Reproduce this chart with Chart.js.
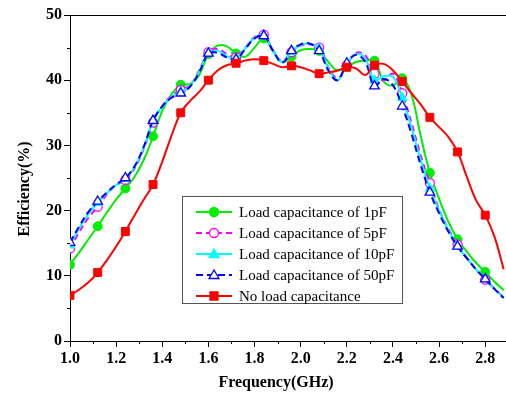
<!DOCTYPE html>
<html>
<head>
<meta charset="utf-8">
<script src="https://cdn.jsdelivr.net/npm/chart.js@4/dist/chart.umd.min.js"></script>
<style>
    html, body { margin: 0; padding: 0; background: #fff; overflow: hidden; }
    #wrap { width: 506px; height: 394px; position: relative; }
    canvas { display: block; }
</style>
</head>
<body>
<div id="wrap"><canvas id="chart"></canvas></div>
<script>
// Frequency samples (GHz), markers sit on every third one
const freq = [1.00, 1.04, 1.08, 1.12, 1.16, 1.20, 1.24, 1.28, 1.32, 1.36, 1.40, 1.44,
    1.48, 1.52, 1.56, 1.60, 1.64, 1.68, 1.72, 1.76, 1.80, 1.84, 1.88, 1.92,
    1.96, 2.00, 2.04, 2.08, 2.12, 2.16, 2.20, 2.24, 2.28, 2.32, 2.36, 2.40,
    2.44, 2.48, 2.52, 2.56, 2.60, 2.64, 2.68, 2.72, 2.76, 2.80, 2.84, 2.88];

const load1pF = [11.7, 13.6, 15.6, 17.6, 19.7, 21.7, 23.4, 25.2, 27.8, 31.4, 35.3, 37.8,
    39.3, 39.4, 40.8, 44.0, 45.3, 45.2, 44.1, 43.6, 45.0, 46.4, 44.5, 42.8,
    43.6, 44.6, 44.8, 44.5, 42.8, 41.5, 42.0, 42.8, 43.0, 43.0, 39.8, 39.2,
    40.3, 37.8, 31.5, 25.8, 21.8, 18.3, 15.6, 13.7, 12.0, 10.6, 9.1, 7.8];

const load5pF = [14.2, 16.7, 18.9, 20.6, 22.5, 23.9, 24.7, 26.5, 29.5, 33.5, 36.0, 37.6,
    38.5, 39.2, 41.5, 44.3, 44.8, 44.0, 43.5, 45.0, 46.6, 47.0, 44.6, 42.9,
    44.3, 45.3, 45.5, 45.0, 42.0, 40.3, 42.3, 44.2, 43.8, 41.0, 40.0, 41.0,
    38.0, 33.5, 28.5, 24.2, 20.2, 17.2, 14.8, 12.8, 11.0, 9.4, 8.0, 6.7];

const load10pF = [14.7, 17.3, 19.5, 21.2, 22.7, 23.9, 24.9, 26.7, 29.7, 33.7, 36.0, 37.4,
    38.2, 39.1, 41.3, 44.2, 44.5, 43.7, 43.3, 44.9, 46.5, 46.9, 44.5, 42.8,
    44.4, 45.4, 45.6, 44.8, 41.8, 40.0, 42.5, 44.0, 43.3, 40.0, 40.6, 40.5,
    37.3, 32.8, 27.8, 23.4, 20.0, 17.0, 14.6, 12.7, 11.0, 9.5, 8.0, 6.6];

const load50pF = [15.1, 17.6, 19.8, 21.4, 22.8, 24.0, 25.0, 26.8, 29.8, 33.8, 36.0, 37.3,
    38.0, 39.0, 41.2, 44.1, 44.2, 43.5, 43.2, 44.8, 46.4, 46.8, 44.5, 42.7,
    44.5, 45.5, 45.6, 44.5, 41.5, 40.0, 42.6, 43.9, 42.8, 39.1, 40.2, 39.2,
    36.0, 31.8, 27.0, 22.8, 19.6, 16.8, 14.5, 12.7, 11.0, 9.5, 8.0, 6.6];

const noLoad = [7.0, 7.9, 9.0, 10.5, 12.4, 14.5, 16.8, 19.3, 21.7, 24.0, 27.5, 31.5,
    35.0, 36.8, 38.2, 40.0, 41.5, 42.3, 42.6, 43.0, 43.2, 43.0, 42.5, 42.0,
    42.2, 42.0, 41.5, 41.0, 41.2, 41.5, 42.0, 41.8, 40.8, 42.3, 42.5, 41.5,
    39.8, 38.0, 36.3, 34.3, 32.8, 31.3, 29.0, 25.2, 21.6, 19.3, 16.0, 11.0];

const seriesNames = ['Load capacitance of 1pF', 'Load capacitance of 5pF',
    'Load capacitance of 10pF', 'Load capacitance of 50pF', 'No load capacitance'];

const xTicks = [1.0, 1.2, 1.4, 1.6, 1.8, 2.0, 2.2, 2.4, 2.6, 2.8];
const xMinor = [1.1, 1.3, 1.5, 1.7, 1.9, 2.1, 2.3, 2.5, 2.7];
const yMinor = [5, 15, 25, 35, 45];

const FONT = "'Liberation Serif', 'Times New Roman', serif";

function toPoints(values) {
    return values.map((v, i) => ({ x: freq[i], y: v }));
}

// only every third sample carries a marker
const markerAt = r => ctx => (ctx.dataIndex % 3 === 0 ? r : 0);

function makeSet(label, values, color, style, filled, dash, order) {
    return {
        label: label,
        data: toPoints(values),
        borderColor: color,
        backgroundColor: filled ? color : '#ffffff',
        borderWidth: 2,
        borderDash: dash,
        tension: 0.4,
        pointStyle: style,
        pointRadius: markerAt(style === 'rect' ? 5.6 : (style === 'triangle' ? 5.5 : 4.5)),
        pointBorderWidth: filled ? 1 : 1.3,
        pointBorderColor: color,
        pointBackgroundColor: filled ? color : '#ffffff',
        order: order,
        clip: 0
    };
}

// short minor ticks, top frame line and the two axis titles
const axisExtras = {
    id: 'axisExtras',
    afterDraw(chart) {
        const c = chart.ctx;
        const xs = chart.scales.x;
        const ys = chart.scales.y;
        const area = chart.chartArea;
        c.save();
        c.strokeStyle = '#000';
        c.lineWidth = 1;
        c.beginPath();
        xMinor.forEach(v => {
            const px = Math.round(xs.getPixelForValue(v)) + 0.5;
            c.moveTo(px, area.bottom);
            c.lineTo(px, area.bottom + 3);
        });
        yMinor.forEach(v => {
            const py = Math.round(ys.getPixelForValue(v)) + 0.5;
            c.moveTo(area.left, py);
            c.lineTo(area.left - 3, py);
        });
        c.moveTo(area.left, area.top + 0.5);
        c.lineTo(area.right, area.top + 0.5);
        c.stroke();

        c.fillStyle = '#000';
        c.font = 'bold 16px ' + FONT;
        c.textAlign = 'center';
        c.textBaseline = 'middle';
        c.fillText('Frequency(GHz)', area.left + 206, area.bottom + 42);
        c.translate(area.left - 45, area.top + 174);
        c.rotate(-Math.PI / 2);
        c.fillText('Efficiency(%)', 0, 0);
        c.restore();
    }
};

function drawMarker(c, style, x, y, color, filled) {
    c.save();
    c.setLineDash([]);
    c.fillStyle = filled ? color : '#ffffff';
    c.strokeStyle = color;
    c.lineWidth = 1.3;
    c.beginPath();
    if (style === 'rect') {
        c.rect(x - 4, y - 4, 8, 8);
    } else if (style === 'triangle') {
        c.moveTo(x, y - 5);
        c.lineTo(x + 5, y + 3.5);
        c.lineTo(x - 5, y + 3.5);
        c.closePath();
    } else {
        c.arc(x, y, 4.5, 0, Math.PI * 2);
    }
    c.fill();
    c.stroke();
    c.restore();
}

const boxLegend = {
    id: 'boxLegend',
    afterDraw(chart) {
        const c = chart.ctx;
        const box = { left: 182.5, top: 196.5, width: 220, height: 107 };
        c.save();
        c.fillStyle = '#ffffff';
        c.fillRect(box.left, box.top, box.width, box.height);
        c.strokeStyle = '#555';
        c.lineWidth = 1;
        c.strokeRect(box.left, box.top, box.width, box.height);
        c.font = '15px ' + FONT;
        c.textBaseline = 'middle';
        chart.data.datasets.forEach((ds, i) => {
            const y = 212 + i * 21;
            c.strokeStyle = ds.borderColor;
            c.lineWidth = 2;
            c.setLineDash(ds.borderDash || []);
            c.beginPath();
            c.moveTo(196, y);
            c.lineTo(232, y);
            c.stroke();
            drawMarker(c, ds.pointStyle, 214, y, ds.borderColor, ds.pointBackgroundColor !== '#ffffff');
            c.fillStyle = '#000';
            c.fillText(ds.label, 239, y + 1);
        });
        c.restore();
    }
};

new Chart(document.getElementById('chart'), {
    type: 'line',
    data: {
        datasets: [
            makeSet(seriesNames[0], load1pF, '#00ee00', 'circle', true, [], 5),
            makeSet(seriesNames[1], load5pF, '#ff00ff', 'circle', false, [6, 4], 4),
            makeSet(seriesNames[2], load10pF, '#00ffff', 'triangle', true, [], 3),
            makeSet(seriesNames[3], load50pF, '#0000ff', 'triangle', false, [7, 4], 2),
            makeSet(seriesNames[4], noLoad, '#ff0000', 'rect', true, [], 1)
        ]
    },
    options: {
        responsive: true,
        maintainAspectRatio: false,
        animation: false,
        layout: { autoPadding: false, padding: { top: 15, right: 0, left: 0, bottom: 0 } },
        plugins: {
            legend: { display: false },
            tooltip: { enabled: false }
        },
        scales: {
            x: {
                type: 'linear',
                min: 1.0,
                max: 2.89,
                afterBuildTicks: scale => {
                    scale.ticks = xTicks.map(v => ({ value: v }));
                },
                afterFit: scale => {
                    scale.height = 53;
                    scale.paddingRight = 0;
                    scale.paddingLeft = 0;
                },
                border: { color: '#000', width: 1 },
                grid: { drawOnChartArea: false, tickLength: 6, color: '#000' },
                ticks: {
                    color: '#000',
                    padding: 2,
                    maxRotation: 0,
                    font: { family: FONT, size: 16, weight: 'bold' },
                    callback: v => v.toFixed(1)
                }
            },
            y: {
                min: 0,
                max: 50,
                afterFit: scale => { scale.width = 70; },
                border: { color: '#000', width: 1 },
                grid: { drawOnChartArea: false, tickLength: 6, color: '#000' },
                ticks: {
                    stepSize: 10,
                    color: '#000',
                    padding: 2,
                    font: { family: FONT, size: 16, weight: 'bold' }
                }
            }
        }
    },
    plugins: [axisExtras, boxLegend]
});
</script>
</body>
</html>
